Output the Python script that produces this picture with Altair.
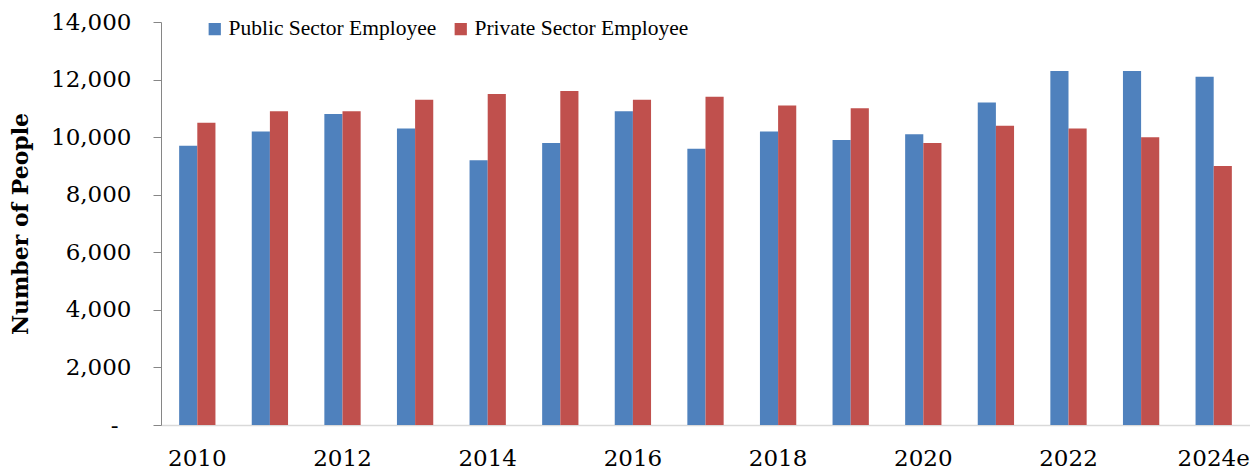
import altair as alt
import pandas as pd

years = ["2010", "2011", "2012", "2013", "2014", "2015", "2016", "2017",
         "2018", "2019", "2020", "2021", "2022", "2023", "2024e"]
public = [9700, 10200, 10800, 10300, 9200, 9800, 10900, 9600,
          10200, 9900, 10100, 11200, 12300, 12300, 12100]
private = [10500, 10900, 10900, 11300, 11500, 11600, 11300, 11400,
           11100, 11000, 9800, 10400, 10300, 10000, 9000]
series = ["Public Sector Employee", "Private Sector Employee"]
colors = ["#4F81BD", "#C0504D"]

rows = []
for i, y in enumerate(years):
    rows.append({"year": y, "series": series[0], "value": public[i]})
    rows.append({"year": y, "series": series[1], "value": private[i]})
df = pd.DataFrame(rows)

chart = alt.Chart(df).mark_bar().encode(
    x=alt.X("year:N", sort=years,
            scale=alt.Scale(paddingInner=0.5, paddingOuter=0.25),
            axis=alt.Axis(title=None, labelAngle=0, ticks=False,
                          domainColor="#d9d9d9", domainWidth=1.5,
                          labelFont="DejaVu Serif", labelFontSize=23,
                          labelColor="#000000", labelPadding=22,
                          labelExpr="toNumber(slice(datum.value,0,4)) % 2 == 0 ? datum.value : ''")),
    xOffset=alt.XOffset("series:N", sort=series),
    y=alt.Y("value:Q", scale=alt.Scale(domain=[0, 14000], nice=False),
            axis=alt.Axis(title="Number of People", values=list(range(0, 14001, 2000)),
                          grid=False, domainColor="#868686", tickColor="#868686",
                          tickSize=8, labelFont="DejaVu Serif", labelFontSize=23,
                          labelColor="#000000",
                          labelPadding={"condition": {"test": "datum.value == 0", "value": 35}, "value": 22},
                          labelExpr="datum.value == 0 ? '-' : format(datum.value, ',')",
                          titleFont="DejaVu Serif", titleFontSize=22, titleFontWeight="bold",
                          titleColor="#000000", titlePadding=18)),
    color=alt.Color("series:N", sort=series,
                    scale=alt.Scale(domain=series, range=colors),
                    legend=alt.Legend(title=None, orient="none", direction="horizontal",
                                      legendX=43, legendY=-4, symbolType="square",
                                      symbolSize=150, symbolStrokeWidth=0,
                                      labelFont="Liberation Serif", labelFontSize=21.5,
                                      labelColor="#000000", labelOffset=3,
                                      columnPadding=13, labelLimit=400)),
).properties(
    width=1089, height=403,
    autosize=alt.AutoSizeParams(type="none"),
    padding={"left": 153, "top": 14, "right": 0, "bottom": 48},
).configure_view(stroke=None)

chart.save("out.html", embed_options={"renderer": "svg", "actions": False})
